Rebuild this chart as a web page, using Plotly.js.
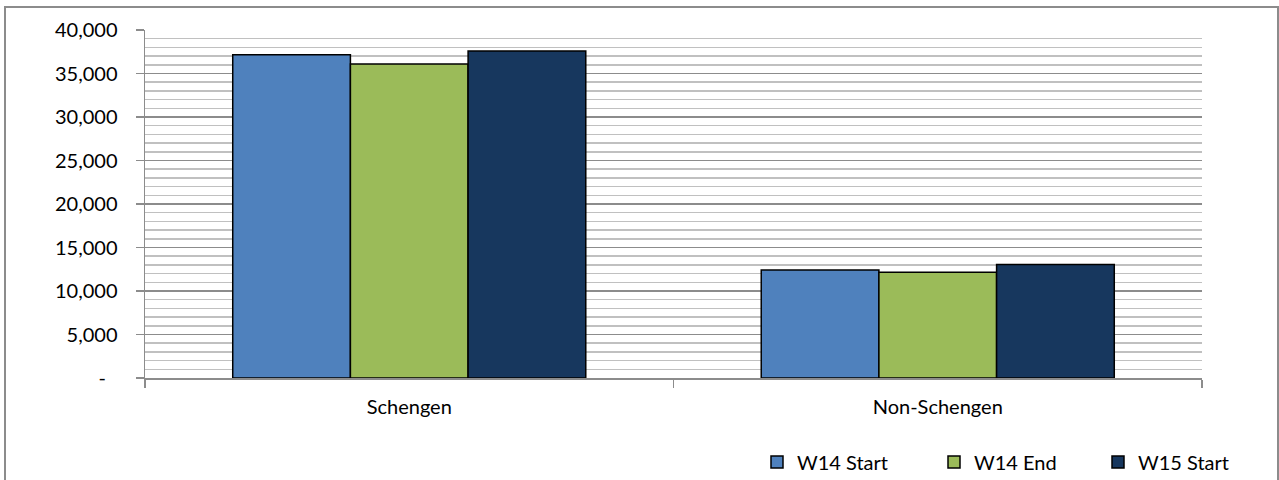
<!DOCTYPE html>
<html>
<head>
<meta charset="utf-8">
<script src="https://cdn.plot.ly/plotly-3.0.1.min.js"></script>
<style>html,body{margin:0;padding:0;background:#fff;}#chart{width:1279px;height:480px;}</style>
</head>
<body>
<div id="chart"></div>
<script>
const categories = ["Schengen", "Non-Schengen"];
const seriesNames = ["W14 Start", "W14 End", "W15 Start"];
const w14Start = [37150, 12400];
const w14End = [36100, 12150];
const w15Start = [37600, 13050];
const yTickVals = [0, 5000, 10000, 15000, 20000, 25000, 30000, 35000, 40000];
const yTickText = ["-\u2007", "5,000", "10,000", "15,000", "20,000", "25,000", "30,000", "35,000", "40,000"];
const colors = ["#4f81bd", "#9bbb59", "#17375e"];

const seriesValues = [w14Start, w14End, w15Start];
const legendIds = ["legend", "legend2", "legend3"];
const traces = seriesValues.map((vals, i) => ({
  type: "bar",
  name: seriesNames[i],
  x: categories,
  y: vals,
  legend: legendIds[i],
  marker: {color: colors[i], line: {color: "#000000", width: 1.5}},
  hoverinfo: "none"
}));

const font = {family: "Lato, 'Open Sans', sans-serif", size: 20, color: "#000000"};

// plot area: x 145..1202 (1057 px), y 30..378 (348 px)
const PL = 145, PW = 1057, PB = 378, PH = 348;
function px2x(p) { return (p - PL) / PW; }
function px2y(p) { return (PB - p) / PH; }

function legendAt(leftPx) {
  return {
    orientation: "h",
    x: px2x(leftPx), xanchor: "left",
    y: px2y(462), yanchor: "middle",
    font: font,
    itemwidth: 30,
    bgcolor: "rgba(0,0,0,0)"
  };
}

const layout = {
  width: 1279,
  height: 480,
  margin: {l: 145, r: 77, t: 30, b: 102, autoexpand: false},
  paper_bgcolor: "#ffffff",
  plot_bgcolor: "#ffffff",
  font: font,
  barmode: "group",
  bargap: 0.332,
  bargroupgap: 0,
  showlegend: true,
  legend: legendAt(757),
  legend2: legendAt(934),
  legend3: legendAt(1098),
  xaxis: {
    type: "category",
    showgrid: false,
    showline: true,
    linecolor: "#8c8c8c",
    linewidth: 1.5,
    ticks: "outside",
    tickson: "boundaries",
    ticklen: 8,
    tickcolor: "#8c8c8c",
    tickwidth: 1.5,
    ticklabelstandoff: 10,
    tickfont: font,
    zeroline: false
  },
  yaxis: {
    range: [0, 40000],
    tickvals: yTickVals,
    ticktext: yTickText,
    showgrid: true,
    gridcolor: "#8c8c8c",
    gridwidth: 1.5,
    showline: true,
    linecolor: "#8c8c8c",
    linewidth: 1.5,
    ticks: "outside",
    ticklen: 8,
    tickcolor: "#8c8c8c",
    tickwidth: 1.5,
    ticklabelstandoff: 14,
    tickfont: font,
    zeroline: false,
    minor: {dtick: 1000, showgrid: true, gridcolor: "#c0c0c0", gridwidth: 1.5, ticks: ""}
  },
  shapes: [{
    type: "rect", xref: "paper", yref: "paper",
    x0: px2x(5), x1: px2x(1278),
    y0: px2y(490), y1: px2y(7),
    line: {color: "#8c8c8c", width: 2}, fillcolor: "rgba(0,0,0,0)", layer: "below"
  }]
};

Plotly.newPlot("chart", traces, layout, {displayModeBar: false, staticPlot: true});
</script>
</body>
</html>
